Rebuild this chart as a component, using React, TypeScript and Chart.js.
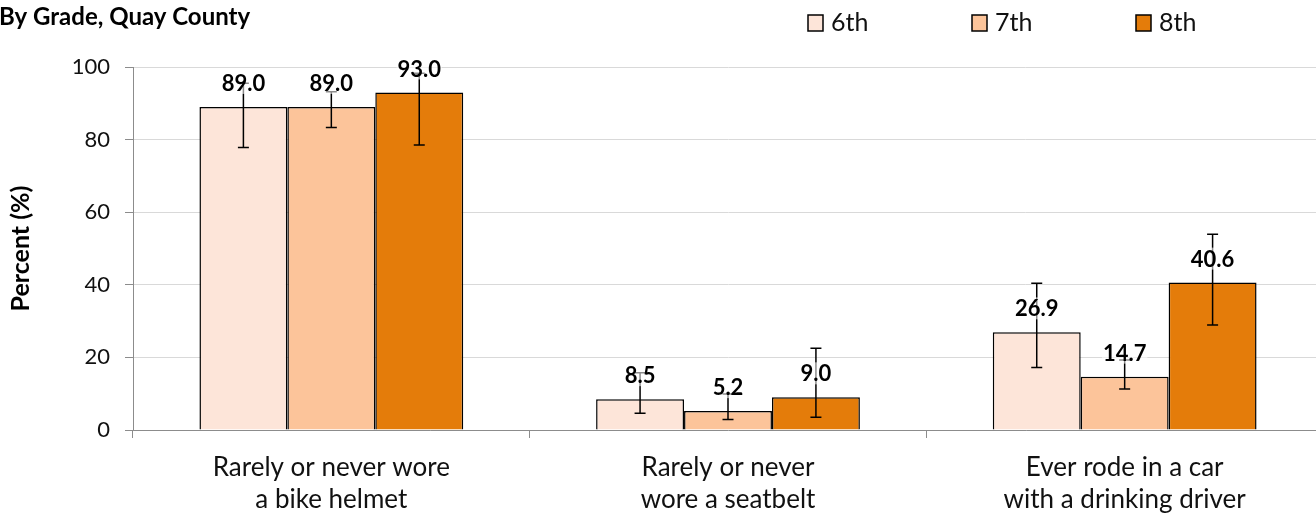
import React, { useEffect, useRef } from "react";
import { Chart, registerables } from "chart.js";

Chart.register(...registerables);

const FONT = "Lato, 'Open Sans', sans-serif";

const chartTitle = "By Grade, Quay County";
const yAxisTitle = "Percent (%)";
const categories = [
  ["Rarely or never wore", "a bike helmet"],
  ["Rarely or never", "wore a seatbelt"],
  ["Ever rode in a car", "with a drinking driver"],
];
const seriesLabels = ["6th", "7th", "8th"];
const seriesColors = ["#FDE5D9", "#FCC49A", "#E47C0A"];

const grade6 = [89.0, 8.5, 26.9];
const grade7 = [89.0, 5.2, 14.7];
const grade8 = [93.0, 9.0, 40.6];

const grade6Low = [77.8, 4.6, 17.2];
const grade6High = [95.5, 15.8, 40.4];
const grade7Low = [83.3, 2.9, 11.3];
const grade7High = [93.2, 9.9, 19.3];
const grade8Low = [78.5, 3.5, 28.9];
const grade8High = [98.3, 22.5, 53.9];

const yMin = 0;
const yMax = 100;
const yStep = 20;

const seriesValues = [grade6, grade7, grade8];
const seriesLow = [grade6Low, grade7Low, grade8Low];
const seriesHigh = [grade6High, grade7High, grade8High];

const errorAndLabelPlugin = {
  id: "errorAndLabel",
  afterDatasetsDraw(chart: any) {
    const ctx = chart.ctx;
    const yScale = chart.scales.y;
    ctx.save();
    chart.data.datasets.forEach((ds: any, di: number) => {
      const meta = chart.getDatasetMeta(di);
      meta.data.forEach((bar: any, i: number) => {
        const x = bar.x;
        const yLo = yScale.getPixelForValue(seriesLow[di][i]);
        const yHi = yScale.getPixelForValue(seriesHigh[di][i]);
        ctx.strokeStyle = "#000";
        ctx.lineWidth = 1.5;
        ctx.beginPath();
        ctx.moveTo(x, yLo);
        ctx.lineTo(x, yHi);
        ctx.moveTo(x - 5.5, yLo);
        ctx.lineTo(x + 5.5, yLo);
        ctx.moveTo(x - 5.5, yHi);
        ctx.lineTo(x + 5.5, yHi);
        ctx.stroke();
      });
    });
    ctx.font = `bold 22px ${FONT}`;
    ctx.textAlign = "center";
    ctx.textBaseline = "middle";
    chart.data.datasets.forEach((ds: any, di: number) => {
      const meta = chart.getDatasetMeta(di);
      meta.data.forEach((bar: any, i: number) => {
        const text = seriesValues[di][i].toFixed(1);
        const w = ctx.measureText(text).width;
        const cy = bar.y - 24;
        ctx.fillStyle = "rgba(255,255,255,0.55)";
        ctx.fillRect(bar.x - w / 2 - 1, cy - 11, w + 2, 22);
        ctx.fillStyle = "#000";
        ctx.fillText(text, bar.x, cy + 1);
      });
    });
    ctx.restore();
  },
  afterDraw(chart: any) {
    const ctx = chart.ctx;
    ctx.save();
    ctx.fillStyle = "#000";
    ctx.font = `bold 24px ${FONT}`;
    ctx.textAlign = "left";
    ctx.textBaseline = "middle";
    ctx.fillText(chartTitle, -1, 17);

    const legendX = [808, 972, 1136];
    ctx.font = `25px ${FONT}`;
    seriesLabels.forEach((lab, i) => {
      const x = legendX[i];
      ctx.fillStyle = seriesColors[i];
      ctx.fillRect(x, 15, 15, 16);
      ctx.strokeStyle = "#000";
      ctx.lineWidth = 1.5;
      ctx.strokeRect(x, 15, 15, 16);
      ctx.fillStyle = "#111";
      ctx.fillText(lab, x + 23, 23);
    });
    ctx.restore();
  },
};

export default function App() {
  const ref = useRef<HTMLCanvasElement>(null);
  useEffect(() => {
    if (!ref.current) return;
    const chart = new Chart(ref.current, {
      type: "bar",
      data: {
        labels: categories as any,
        datasets: seriesLabels.map((lab, i) => ({
          label: lab,
          data: seriesValues[i],
          backgroundColor: seriesColors[i],
          borderColor: "#000",
          borderWidth: 1.5,
          categoryPercentage: 0.665,
          barPercentage: 1.0,
        })),
      },
      options: {
        responsive: false,
        animation: false,
        devicePixelRatio: 1,
        layout: { padding: { top: 67, left: 0, right: 0, bottom: 0 } },
        plugins: {
          legend: { display: false },
          title: { display: false },
          tooltip: { enabled: false },
        },
        scales: {
          x: {
            offset: true,
            grid: {
              offset: true,
              drawOnChartArea: false,
              drawTicks: true,
              tickLength: 8,
              color: "#8c8c8c",
            },
            border: { color: "#8c8c8c", width: 1 },
            ticks: {
              color: "#111",
              font: { family: FONT, size: 26, lineHeight: 1.23 },
              padding: 14,
              maxRotation: 0,
              autoSkip: false,
            },
            afterFit(scale: any) {
              scale.height = 86;
            },
          },
          y: {
            min: yMin,
            max: yMax,
            ticks: {
              stepSize: yStep,
              color: "#111",
              font: { family: FONT, size: 22 },
              padding: 15,
            },
            grid: {
              color: "#d9d9d9",
              tickColor: "#8c8c8c",
              tickLength: 8,
            },
            border: { color: "#8c8c8c", width: 1 },
            title: {
              display: true,
              text: yAxisTitle,
              color: "#000",
              font: { family: FONT, size: 25, weight: "bold" },
              padding: { top: 6, bottom: 0 },
            },
            afterFit(scale: any) {
              scale.width = 133;
            },
          },
        },
      },
      plugins: [errorAndLabelPlugin],
    });
    return () => chart.destroy();
  }, []);
  return (
    <div style={{ position: "absolute", left: 0, top: 0, width: 1316, height: 516, overflow: "hidden", background: "#fff" }}>
      <canvas ref={ref} width={1323} height={516} style={{ display: "block" }} />
    </div>
  );
}
